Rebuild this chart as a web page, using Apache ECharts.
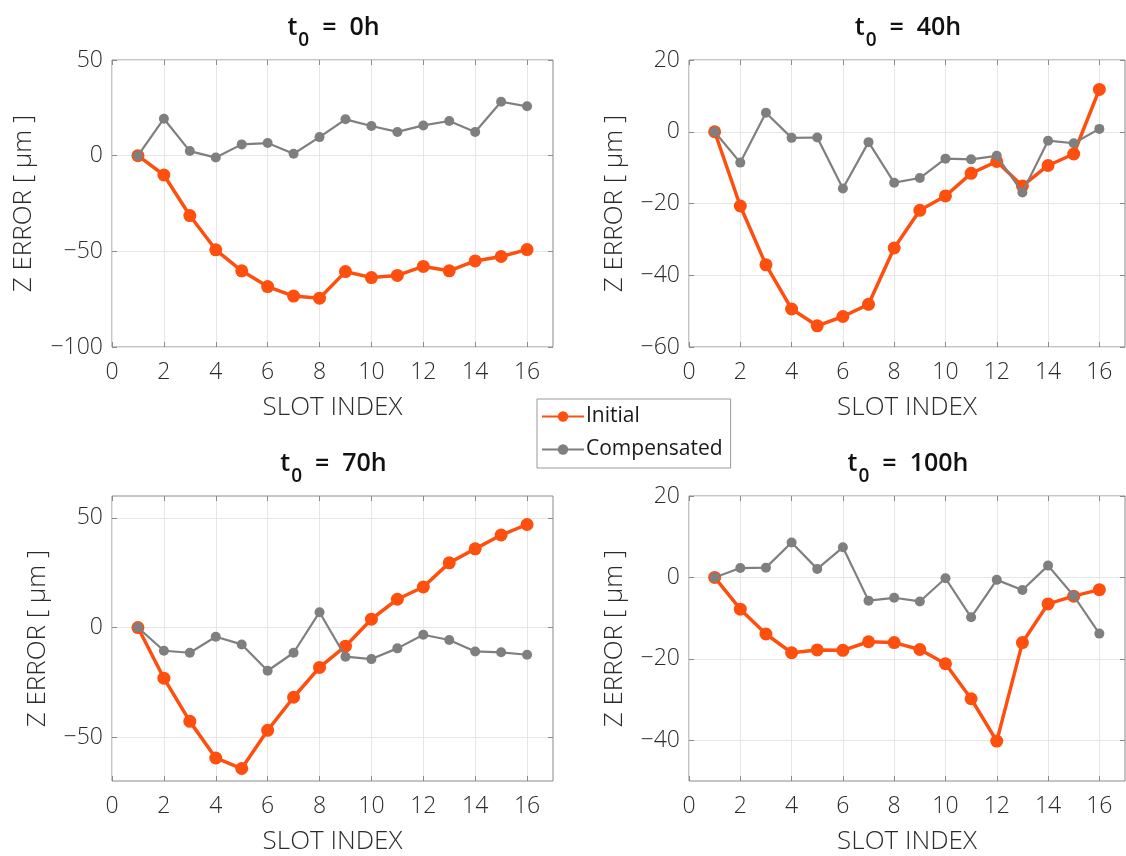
<!DOCTYPE html>
<html>
<head>
<meta charset="utf-8">
<script src="https://cdn.jsdelivr.net/npm/echarts@6/dist/echarts.min.js"></script>
<style>
  html, body { margin: 0; padding: 0; background: #fff; }
  #chart { width: 1126px; height: 856px; }
</style>
</head>
<body>
<div id="chart"></div>
<script>
// Slot positions along the x axis
const slots = [1, 2, 3, 4, 5, 6, 7, 8, 9, 10, 11, 12, 13, 14, 15, 16];

// Z error (µm) per slot, initial vs compensated, for each start time t0
const initial0h = [0, -10.1, -31.3, -49.2, -60.2, -68.4, -73.4, -74.5, -60.6, -63.7, -62.6, -57.9, -60.2, -55.0, -52.7, -49.1];
const comp0h = [0, 19.3, 2.4, -1.0, 5.9, 6.6, 1.0, 9.7, 19.0, 15.5, 12.4, 15.8, 18.1, 12.4, 28.2, 25.8];

const initial40h = [0, -20.7, -37.1, -49.4, -54.1, -51.5, -48.1, -32.4, -21.9, -17.9, -11.6, -8.3, -15.1, -9.4, -6.2, 11.8];
const comp40h = [0, -8.6, 5.3, -1.7, -1.6, -15.8, -2.9, -14.2, -12.9, -7.5, -7.7, -6.7, -16.9, -2.5, -3.2, 0.8];

const initial70h = [0, -23.1, -42.8, -59.5, -64.3, -46.9, -31.8, -18.2, -8.5, 3.8, 12.9, 18.5, 29.5, 35.9, 42.2, 47.0];
const comp70h = [0, -10.6, -11.5, -4.2, -7.7, -19.7, -11.5, 7.0, -13.3, -14.4, -9.5, -3.3, -5.7, -10.9, -11.3, -12.4];

const initial100h = [0, -7.8, -13.9, -18.5, -17.8, -17.9, -15.8, -16.0, -17.7, -21.2, -29.8, -40.2, -16.0, -6.5, -4.6, -3.0];
const comp100h = [0, 2.3, 2.4, 8.6, 2.1, 7.4, -5.7, -5.0, -5.9, -0.2, -9.8, -0.6, -3.1, 2.9, -4.5, -13.8];

// Panel titles (hours), y-axis ranges and y tick values
const hours = ['0h', '40h', '70h', '100h'];
const yMins = [-100, -60, -70, -50];
const yMaxs = [50, 20, 60, 20];
const yTicks = [
  [-100, -50, 0, 50],
  [-60, -40, -20, 0, 20],
  [-50, 0, 50],
  [-40, -20, 0, 20]
];
const xTicks = [0, 2, 4, 6, 8, 10, 12, 14, 16];

const panelSeries = [
  [initial0h, comp0h],
  [initial40h, comp40h],
  [initial70h, comp70h],
  [initial100h, comp100h]
];

const ORANGE = '#FF4F0F';
const GRAY = '#7F7F7F';
const FRAME = '#8a8a8a';
const GRID = '#e6e6e6';
const TEXT = '#2b2b2b';
const FONT = '"Open Sans", "Noto Sans", sans-serif';

const grids = [
  { left: 112, top: 60, width: 441, height: 287, yGap: 75 },
  { left: 689, top: 60, width: 436, height: 287, yGap: 61 },
  { left: 112, top: 496, width: 441, height: 286, yGap: 61 },
  { left: 689, top: 496, width: 436, height: 286, yGap: 61 }
];

const minus = v => String(v).replace('-', '\u2212');

const option = {
  backgroundColor: '#fff',
  animation: false,
  textStyle: { fontFamily: FONT },
  title: [],
  grid: [],
  xAxis: [],
  yAxis: [],
  series: [],
  legend: {
    data: ['Initial', 'Compensated'],
    orient: 'vertical',
    left: 537,
    top: 399,
    padding: [7, 8, 8, 4],
    itemGap: 12,
    itemWidth: 42,
    itemHeight: 13,
    borderColor: '#999',
    borderWidth: 1,
    backgroundColor: '#fff',
    selectedMode: false,
    textStyle: { fontSize: 21, color: '#1a1a1a', fontFamily: FONT, padding: [0, 0, 0, -3] }
  }
};

grids.forEach((g, i) => {
  option.grid.push({
    left: g.left, top: g.top, width: g.width, height: g.height,
    show: true, borderColor: FRAME, borderWidth: 1, backgroundColor: '#fff'
  });

  option.title.push({
    text: '{t|t}{s|0}{t|  =  ' + hours[i] + '}',
    left: g.left + g.width / 2 - 4,
    top: g.top - 52,
    textAlign: 'center',
    textStyle: {
      rich: {
        t: { fontSize: 25, fontWeight: 600, color: '#111', fontFamily: FONT, lineHeight: 30 },
        s: { fontSize: 19, fontWeight: 600, color: '#111', fontFamily: FONT, lineHeight: 20, padding: [26, 0, 0, 1] }
      }
    }
  });

  const xTick = { show: true, inside: true, length: 5, customValues: xTicks, lineStyle: { color: FRAME, width: 1 } };
  const yTick = { show: true, inside: true, length: 5, customValues: yTicks[i], lineStyle: { color: FRAME, width: 1 } };

  // bottom x axis with labels
  option.xAxis.push({
    type: 'value', gridIndex: i, min: 0, max: 17,
    name: 'SLOT INDEX', nameLocation: 'middle', nameGap: 48,
    nameTextStyle: { fontSize: 26, color: TEXT, fontWeight: 300, fontFamily: FONT },
    axisLine: { show: false, onZero: false },
    axisTick: xTick,
    axisLabel: {
      fontSize: 23, color: TEXT, fontWeight: 300, margin: 14, fontFamily: FONT,
      customValues: xTicks
    },
    splitLine: { show: true, lineStyle: { color: GRID, width: 1 } }
  });
  // top x axis: mirrored ticks only
  option.xAxis.push({
    type: 'value', gridIndex: i, min: 0, max: 17, position: 'top',
    axisLine: { show: false, onZero: false }, axisTick: xTick, axisLabel: { show: false }, splitLine: { show: false }
  });

  // left y axis with labels
  option.yAxis.push({
    type: 'value', gridIndex: i, min: yMins[i], max: yMaxs[i],
    name: 'Z ERROR [ \u00b5m ]', nameLocation: 'middle', nameGap: g.yGap,
    nameTextStyle: { fontSize: 26, color: TEXT, fontWeight: 300, fontFamily: FONT },
    axisLine: { show: false, onZero: false },
    axisTick: yTick,
    axisLabel: {
      fontSize: 23, color: TEXT, fontWeight: 300, margin: 9, fontFamily: FONT,
      customValues: yTicks[i],
      formatter: v => minus(v)
    },
    splitLine: { show: true, lineStyle: { color: GRID, width: 1 } }
  });
  // right y axis: mirrored ticks only
  option.yAxis.push({
    type: 'value', gridIndex: i, min: yMins[i], max: yMaxs[i], position: 'right',
    axisLine: { show: false, onZero: false }, axisTick: yTick, axisLabel: { show: false }, splitLine: { show: false }
  });

  const [ini, comp] = panelSeries[i];
  option.series.push({
    name: 'Initial', type: 'line', xAxisIndex: i * 2, yAxisIndex: i * 2,
    data: slots.map((s, k) => [s, ini[k]]),
    symbol: 'circle', symbolSize: 13,
    lineStyle: { color: ORANGE, width: 3.5 },
    itemStyle: { color: ORANGE },
    z: 2
  });
  option.series.push({
    name: 'Compensated', type: 'line', xAxisIndex: i * 2, yAxisIndex: i * 2,
    data: slots.map((s, k) => [s, comp[k]]),
    symbol: 'circle', symbolSize: 10,
    lineStyle: { color: GRAY, width: 2.2 },
    itemStyle: { color: GRAY },
    z: 3
  });
});

const chart = echarts.init(document.getElementById('chart'), null, { renderer: 'canvas' });
chart.setOption(option);
</script>
</body>
</html>
